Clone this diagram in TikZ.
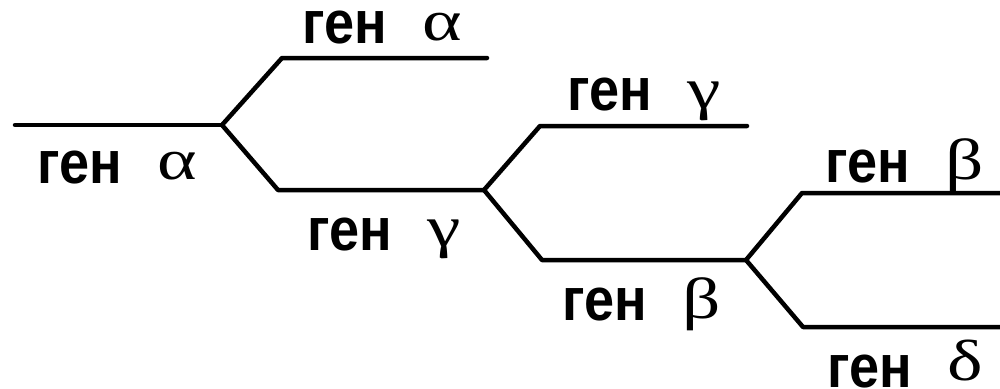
\documentclass[tikz,border=0pt]{standalone}
\usepackage{fontspec}
\setmainfont{Liberation Sans}
\newfontfamily\genfont{Liberation Sans}
\newfontfamily\grkfont{Liberation Serif}
\begin{document}
\begin{tikzpicture}[x=1pt,y=-1pt,
  branch/.style={line width=4.5pt,line cap=round,line join=round},
  genlabel/.style={anchor=base west,inner sep=0pt,outer sep=0pt,
    font=\genfont\bfseries\fontsize{54}{54}\selectfont},
]
\newcommand{\glab}[2]{\makebox[120pt][l]{\scalebox{1}[1.12]{ген}}\raisebox{#1pt}{\scalebox{1.3}[1]{\grkfont\mdseries\fontsize{58}{58}\selectfont #2}}}
\useasboundingbox (0,0) rectangle (1000,388);

% branch points and line ends
\coordinate (s0) at (15,125);
\coordinate (j1) at (222,125);
\coordinate (a1) at (282,58);
\coordinate (a2) at (487,58);
\coordinate (g1) at (278,190);
\coordinate (j2) at (484,190);
\coordinate (c1) at (540,126);
\coordinate (c2) at (747,126);
\coordinate (b1) at (542,260);
\coordinate (j3) at (746,260);
\coordinate (e1) at (802,193);
\coordinate (e2) at (1000,193);
\coordinate (d1) at (803,327);
\coordinate (d2) at (1000,327);

\draw[branch] (s0) -- (j1);
\draw[branch] (j1) -- (a1) -- (a2);
\draw[branch] (j1) -- (g1) -- (j2);
\draw[branch] (j2) -- (c1) -- (c2);
\draw[branch] (j2) -- (b1) -- (j3);
\draw[branch] (j3) -- (e1) -- (e2);
\draw[branch] (j3) -- (d1) -- (d2);

% gene labels
\node[genlabel] (la1) at (302,43)  {\glab{3}{α}};
\node[genlabel] (la0) at (37,183)  {\glab{4}{α}};
\node[genlabel] (lc1) at (567,110) {\glab{2}{γ}};
\node[genlabel] (lc0) at (307,250) {\glab{4}{γ}};
\node[genlabel] (lb1) at (825,182) {\glab{3}{β}};
\node[genlabel] (lb0) at (562,320) {\glab{2}{β}};
\node[genlabel] (ld0) at (827,387) {\glab{7}{δ}};
\end{tikzpicture}
\end{document}
